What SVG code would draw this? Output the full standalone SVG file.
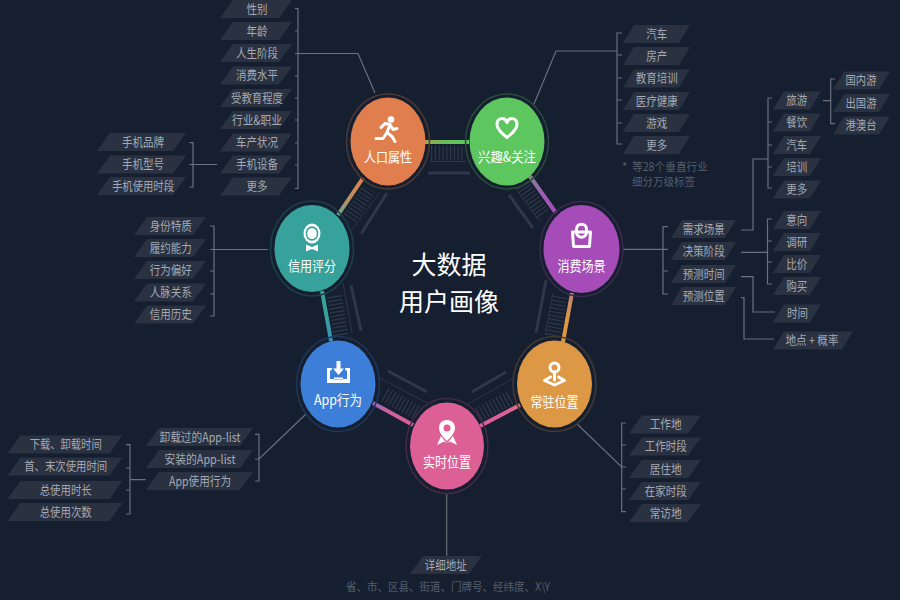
<svg xmlns="http://www.w3.org/2000/svg" width="900" height="600" viewBox="0 0 900 600">
<style>
text{font-family:"Noto Sans CJK SC","Noto Sans",sans-serif;text-anchor:middle}
.t{font-size:12.5px;fill:#a4a9b3}
.n{font-size:14px;fill:#fff}
.c{font-size:25px;fill:#fff}
.d{font-size:11.5px;fill:#565d6c;text-anchor:start}
.l{fill:none;stroke:#6a707d;stroke-width:1.2}
.th{fill:none;stroke:#2d3647;stroke-width:1}
.b{fill:none;stroke:#2f3748;stroke-width:3}
.h{fill:none;stroke:#2f3849;stroke-width:15;stroke-dasharray:1.2 2.600}
.k{fill:none;stroke-width:4}
.r{fill:none;stroke-width:1.500}
.i{fill:#fff}
.o{fill:none;stroke:#fff;stroke-width:3;stroke-linecap:round;stroke-linejoin:round}
</style>
<defs>
<polygon id="p48" points="11,0 48,0 37,18 0,18" fill="#2a3242"/>
<polygon id="p57" points="11,0 57,0 46,18 0,18" fill="#2a3242"/>
<polygon id="p65" points="11,0 65,0 54,18 0,18" fill="#2a3242"/>
<polygon id="p67" points="11,0 67,0 56,18 0,18" fill="#2a3242"/>
<polygon id="p72" points="13,0 72,0 59,18 0,18" fill="#2a3242"/>
<polygon id="p80" points="11,0 80,0 69,18 0,18" fill="#2a3242"/>
<polygon id="p89" points="13,0 89,0 76,18 0,18" fill="#2a3242"/>
<polygon id="p107" points="13,0 107,0 94,18 0,18" fill="#2a3242"/>
<polygon id="p115" points="13,0 115,0 102,18 0,18" fill="#2a3242"/>
<linearGradient id="g1" gradientUnits="userSpaceOnUse" x1="425" y1="142" x2="469" y2="142"><stop offset="0" stop-color="#a3a34d"/><stop offset=".4" stop-color="#68bd5a"/><stop offset="1" stop-color="#5ec65e"/></linearGradient>
<linearGradient id="g2" gradientUnits="userSpaceOnUse" x1="529" y1="175" x2="556" y2="213"><stop offset="0" stop-color="#7f8a85"/><stop offset=".5" stop-color="#a05cb5"/><stop offset="1" stop-color="#a64cb9"/></linearGradient>
<linearGradient id="g3" gradientUnits="userSpaceOnUse" x1="572" y1="293" x2="563" y2="342"><stop offset="0" stop-color="#c0807a"/><stop offset=".5" stop-color="#dc9845"/><stop offset="1" stop-color="#dc9845"/></linearGradient>
<linearGradient id="g4" gradientUnits="userSpaceOnUse" x1="520" y1="405" x2="480" y2="426"><stop offset="0" stop-color="#dc6f85"/><stop offset=".4" stop-color="#dc5f96"/><stop offset="1" stop-color="#dc5f96"/></linearGradient>
<linearGradient id="g5" gradientUnits="userSpaceOnUse" x1="413" y1="425" x2="373" y2="403"><stop offset="0" stop-color="#dc5f96"/><stop offset=".6" stop-color="#d0609c"/><stop offset="1" stop-color="#8d6cc0"/></linearGradient>
<linearGradient id="g6" gradientUnits="userSpaceOnUse" x1="331" y1="341" x2="322" y2="291"><stop offset="0" stop-color="#3a90b8"/><stop offset=".5" stop-color="#37a29b"/><stop offset="1" stop-color="#37a29b"/></linearGradient>
<linearGradient id="g7" gradientUnits="userSpaceOnUse" x1="338" y1="215" x2="363" y2="178"><stop offset="0" stop-color="#6fa58c"/><stop offset=".5" stop-color="#c08e5c"/><stop offset="1" stop-color="#e07f4d"/></linearGradient>
</defs>
<rect width="900" height="600" fill="#151f30"/>
<g id="connectors">
<line class="h" x1="431" y1="153" x2="465" y2="153"/>
<line class="h" x1="522" y1="185" x2="544" y2="216"/>
<line class="h" x1="560" y1="297" x2="553" y2="336"/>
<line class="h" x1="510" y1="398" x2="478" y2="415"/>
<line class="h" x1="416" y1="412" x2="384" y2="394"/>
<line class="h" x1="341" y1="335" x2="334" y2="294"/>
<line class="h" x1="350" y1="218" x2="369" y2="189"/>
<line class="th" x1="430" y1="161.500" x2="466" y2="161.500"/>
<line class="th" x1="515" y1="187" x2="540" y2="222"/>
<line class="th" x1="553" y1="293" x2="545" y2="335"/>
<line class="th" x1="514" y1="378" x2="468" y2="404"/>
<line class="th" x1="378" y1="377" x2="427" y2="403"/>
<line class="th" x1="343" y1="283" x2="352" y2="333"/>
<line class="th" x1="380" y1="192" x2="352" y2="230"/>
<line class="b" x1="428" y1="173" x2="470" y2="173"/>
<line class="b" x1="509" y1="195" x2="533" y2="228"/>
<line class="b" x1="546" y1="280" x2="536" y2="333"/>
<line class="b" x1="472" y1="392" x2="506" y2="372"/>
<line class="b" x1="388" y1="371" x2="427" y2="392"/>
<line class="b" x1="351" y1="285" x2="361" y2="331"/>
<line class="b" x1="387" y1="193" x2="361" y2="234"/>
<line class="k" stroke="url(#g1)" x1="425" y1="142" x2="469" y2="142"/>
<line class="k" stroke="url(#g2)" x1="529" y1="175" x2="556" y2="213"/>
<line class="k" stroke="url(#g3)" x1="572" y1="293" x2="563" y2="342"/>
<line class="k" stroke="url(#g4)" x1="520" y1="405" x2="480" y2="426"/>
<line class="k" stroke="url(#g5)" x1="413" y1="425" x2="373" y2="403"/>
<line class="k" stroke="url(#g6)" x1="331" y1="341" x2="322" y2="291"/>
<line class="k" stroke="url(#g7)" x1="338" y1="215" x2="363" y2="178"/>
<path class="l" d="M295 8.500H298V188.500H295M295 31H298M295 53.500H358L375 93M295 76H298M295 98H298M295 120H298M295 143H298M295 165H298"/>
<path class="l" d="M189.500 142.700H193V187H189.500M189.500 164.500H217"/>
<path class="l" d="M210 226H214V316H210M210 249.500H268M210 271H214M210 294H214"/>
<path class="l" d="M534 104L556 51H617M622 33H617V144H622M617 55H622M617 78H622M617 100H622M617 123H622"/>
<path class="l" d="M835 79H830.700V123.700H835M823 100.700H830.700"/>
<path class="l" d="M772 98H768V188H772M768 122H772M768 145H772M768 167H772M768 159H753V230H741"/>
<path class="l" d="M668 226.700H663V294H668M623 249.300H668M663 271H668"/>
<path class="l" d="M741 252.300H767.500M772 219H767.500V284H772M767.500 241H772M767.500 262H772"/>
<path class="l" d="M741 276.700H753V312H775"/>
<path class="l" d="M741 297.700H744V339H774"/>
<path class="l" d="M577 424L621.700 467H626M626 423H621.700V511.700H626M621.700 445H626M621.700 489H626"/>
<path class="l" d="M446.700 494V555.700"/>
<path class="l" d="M306 414L259 459H255M255 434.300H259V481H255"/>
<path class="l" d="M126 444.700H130V514H126M126 468H130M126 490H130M130 479.700H145.700"/>
</g>
<g id="center-title">
<text class="c" x="449" y="274">大数据</text>
<text class="c" x="449" y="311">用户画像</text>
</g>
<g id="node-renkou" transform="translate(388,141.500)">
<ellipse class="r" rx="41.500" ry="47.500" stroke="#4a3a38"/>
<ellipse rx="37.500" ry="44" fill="#e07f4d"/>
<circle class="i" cx="3" cy="-22" r="3.300"/>
<path class="o" d="M-7 -14L-3 -18L2 -17L5 -12L9 -13M2 -17L-1 -9L4 -5L7 0M-1 -9L-5 -3H-12"/>
<text class="n" x="0" y="20.500" textLength="48" lengthAdjust="spacingAndGlyphs">人口属性</text>
</g>
<g id="node-xingqu" transform="translate(507,141.500)">
<ellipse class="r" rx="41.500" ry="47.500" stroke="#2b4a3c"/>
<ellipse rx="37.500" ry="44" fill="#5ec65e"/>
<path class="o" d="M0 -4C-5 -8 -10 -12 -10 -17C-10 -24 -2 -25 0 -19C2 -25 10 -24 10 -17C10 -12 5 -8 0 -4Z"/>
<text class="n" x="0" y="20.500" textLength="58" lengthAdjust="spacingAndGlyphs">兴趣&amp;关注</text>
</g>
<g id="node-xiaofei" transform="translate(581.500,249)">
<ellipse class="r" rx="41.500" ry="47.500" stroke="#3a2a50"/>
<ellipse rx="38" ry="44" fill="#a64cb9"/>
<path class="o" d="M-9 -17H9L8 -2.500H-8ZM-5 -17V-20C-5 -26.500 5 -26.500 5 -20V-17M-5 -17C-5 -10 5 -10 5 -17" stroke-width="2.400"/>
<text class="n" x="0" y="22" textLength="48" lengthAdjust="spacingAndGlyphs">消费场景</text>
</g>
<g id="node-changzhu" transform="translate(554.500,384)">
<ellipse class="r" rx="41.500" ry="47.500" stroke="#443a35"/>
<ellipse rx="37.500" ry="43.500" fill="#dc9845"/>
<circle class="o" cx="0" cy="-16.500" r="4.500" stroke-width="2.600"/>
<path class="o" d="M0 -11.500V-4" stroke-width="2.600"/>
<path class="o" d="M-4 -7L-10 -3.500L0 1L10 -3.500L4 -7" stroke-width="2.600"/>
<text class="n" x="0" y="22.500" textLength="48" lengthAdjust="spacingAndGlyphs">常驻位置</text>
</g>
<g id="node-shishi" transform="translate(447,446)">
<ellipse class="r" rx="41" ry="47.500" stroke="#432a48"/>
<ellipse rx="37" ry="43.500" fill="#dc5f96"/>
<path class="i" fill-rule="evenodd" d="M0 -26C-5.500 -26 -8 -22 -8 -18C-8 -13 -3 -8 0 -5C3 -8 8 -13 8 -18C8 -22 5.500 -26 0 -26ZM0 -21.500A3.500 3.500 0 1 1 0 -14.500A3.500 3.500 0 1 1 0 -21.500Z"/>
<path class="i" d="M-6 -10L-3 -6L0 -3L-3 -4.500L-10 -1ZM6 -10L3 -6L0 -3L3 -4.500L10 -1Z"/>
<text class="n" x="0" y="21" textLength="48" lengthAdjust="spacingAndGlyphs">实时位置</text>
</g>
<g id="node-app" transform="translate(338,384)">
<ellipse class="r" rx="41.500" ry="47.500" stroke="#1f3658"/>
<ellipse rx="37.500" ry="43.500" fill="#3d7ed8"/>
<path class="i" d="M-1.500 -23H2.500V-15.500H6L0.500 -9L-5 -15.500H-1.500Z"/>
<path class="i" fill-rule="evenodd" d="M-6 -16L-6.500 -13.500H-8V-5H9V-13.500H7.500L7 -16L12 -16V-1H-11V-16ZM-4 -6.500H5V-4.500H-4Z"/>
<text class="n" x="0" y="20.500" textLength="48" lengthAdjust="spacingAndGlyphs">App行为</text>
</g>
<g id="node-xinyong" transform="translate(312,248.500)">
<ellipse class="r" rx="41.500" ry="47.500" stroke="#1c4048"/>
<ellipse rx="37.500" ry="43.500" fill="#37a29b"/>
<ellipse class="i" cx="0" cy="-15" rx="8.500" ry="10"/>
<ellipse cx="0" cy="-15" rx="6.300" ry="7.300" fill="#37a29b"/>
<ellipse class="i" cx="0" cy="-15" rx="4.800" ry="5.600"/>
<path class="i" d="M-6 -4L0 -1.500L6 -4V3L0 0.500L-6 3Z"/>
<text class="n" x="0" y="22" textLength="48" lengthAdjust="spacingAndGlyphs">信用评分</text>
</g>
<g id="tags-renkou">
<g id="t-xingbie"><use href="#p72" x="220" y="0"/><text class="t" x="257" y="13.500" textLength="21" lengthAdjust="spacingAndGlyphs">性别</text></g>
<g id="t-nianling"><use href="#p72" x="220" y="22"/><text class="t" x="257" y="35.500" textLength="21" lengthAdjust="spacingAndGlyphs">年龄</text></g>
<g id="t-jieduan"><use href="#p72" x="220" y="44"/><text class="t" x="257" y="57.500" textLength="42" lengthAdjust="spacingAndGlyphs">人生阶段</text></g>
<g id="t-shuiping"><use href="#p72" x="220" y="66.500"/><text class="t" x="257" y="80" textLength="42" lengthAdjust="spacingAndGlyphs">消费水平</text></g>
<g id="t-jiaoyu"><use href="#p72" x="220" y="89"/><text class="t" x="257" y="102.500" textLength="52" lengthAdjust="spacingAndGlyphs">受教育程度</text></g>
<g id="t-hangye"><use href="#p72" x="220" y="111"/><text class="t" x="257" y="124.500" textLength="50" lengthAdjust="spacingAndGlyphs">行业&amp;职业</text></g>
<g id="t-chechan"><use href="#p72" x="220" y="133.500"/><text class="t" x="257" y="147" textLength="42" lengthAdjust="spacingAndGlyphs">车产状况</text></g>
<g id="t-shebei"><use href="#p72" x="220" y="155.500"/><text class="t" x="257" y="169" textLength="42" lengthAdjust="spacingAndGlyphs">手机设备</text></g>
<g id="t-gengduo1"><use href="#p72" x="220" y="177.500"/><text class="t" x="257" y="191" textLength="21" lengthAdjust="spacingAndGlyphs">更多</text></g>
</g>
<g id="tags-phone">
<g id="t-pinpai"><use href="#p89" x="97" y="133"/><text class="t" x="143" y="146.500" textLength="42" lengthAdjust="spacingAndGlyphs">手机品牌</text></g>
<g id="t-xinghao"><use href="#p89" x="97" y="155.500"/><text class="t" x="143" y="169" textLength="42" lengthAdjust="spacingAndGlyphs">手机型号</text></g>
<g id="t-shiduan"><use href="#p89" x="97" y="177"/><text class="t" x="143" y="190.500" textLength="62" lengthAdjust="spacingAndGlyphs">手机使用时段</text></g>
</g>
<g id="tags-xinyong">
<g id="t-shenfen"><use href="#p72" x="134" y="217"/><text class="t" x="170.700" y="230.500" textLength="42" lengthAdjust="spacingAndGlyphs">身份特质</text></g>
<g id="t-lvyue"><use href="#p72" x="134" y="239"/><text class="t" x="170.700" y="252.500" textLength="42" lengthAdjust="spacingAndGlyphs">履约能力</text></g>
<g id="t-xingwei"><use href="#p72" x="134" y="261"/><text class="t" x="170.700" y="274.500" textLength="42" lengthAdjust="spacingAndGlyphs">行为偏好</text></g>
<g id="t-renmai"><use href="#p72" x="134" y="283.500"/><text class="t" x="170.700" y="297" textLength="42" lengthAdjust="spacingAndGlyphs">人脉关系</text></g>
<g id="t-lishi"><use href="#p72" x="134" y="305.500"/><text class="t" x="170.700" y="319" textLength="42" lengthAdjust="spacingAndGlyphs">信用历史</text></g>
</g>
<g id="tags-xingqu">
<g id="t-qiche1"><use href="#p67" x="623" y="25"/><text class="t" x="656.700" y="38.500" textLength="21" lengthAdjust="spacingAndGlyphs">汽车</text></g>
<g id="t-fangchan"><use href="#p67" x="623" y="47"/><text class="t" x="656.700" y="60.500" textLength="21" lengthAdjust="spacingAndGlyphs">房产</text></g>
<g id="t-peixun1"><use href="#p67" x="623" y="69.500"/><text class="t" x="656.700" y="83" textLength="42" lengthAdjust="spacingAndGlyphs">教育培训</text></g>
<g id="t-yiliao"><use href="#p67" x="623" y="92"/><text class="t" x="656.700" y="105.500" textLength="42" lengthAdjust="spacingAndGlyphs">医疗健康</text></g>
<g id="t-youxi"><use href="#p67" x="623" y="114"/><text class="t" x="656.700" y="127.500" textLength="21" lengthAdjust="spacingAndGlyphs">游戏</text></g>
<g id="t-gengduo2"><use href="#p67" x="623" y="136"/><text class="t" x="656.700" y="149.500" textLength="21" lengthAdjust="spacingAndGlyphs">更多</text></g>
<text class="d" x="622" y="171">*</text>
<text class="d" x="632" y="171" textLength="76" lengthAdjust="spacingAndGlyphs">等28个垂直行业</text>
<text class="d" x="632" y="186" textLength="63" lengthAdjust="spacingAndGlyphs">细分万级标签</text>
</g>
<g id="tags-xiaofei">
<g id="t-guonei"><use href="#p57" x="833" y="71.500"/><text class="t" x="861" y="85" textLength="31" lengthAdjust="spacingAndGlyphs">国内游</text></g>
<g id="t-chuguo"><use href="#p57" x="833" y="94"/><text class="t" x="861" y="107.500" textLength="31" lengthAdjust="spacingAndGlyphs">出国游</text></g>
<g id="t-gangao"><use href="#p57" x="833" y="116.500"/><text class="t" x="861" y="130" textLength="31" lengthAdjust="spacingAndGlyphs">港澳台</text></g>
<g id="t-lvyou"><use href="#p48" x="773" y="91.500"/><text class="t" x="796.700" y="105" textLength="21" lengthAdjust="spacingAndGlyphs">旅游</text></g>
<g id="t-canyin"><use href="#p48" x="773" y="113.500"/><text class="t" x="796.700" y="127" textLength="21" lengthAdjust="spacingAndGlyphs">餐饮</text></g>
<g id="t-qiche2"><use href="#p48" x="773" y="136"/><text class="t" x="796.700" y="149.500" textLength="21" lengthAdjust="spacingAndGlyphs">汽车</text></g>
<g id="t-peixun2"><use href="#p48" x="773" y="158"/><text class="t" x="796.700" y="171.500" textLength="21" lengthAdjust="spacingAndGlyphs">培训</text></g>
<g id="t-gengduo3"><use href="#p48" x="773" y="180.500"/><text class="t" x="796.700" y="194" textLength="21" lengthAdjust="spacingAndGlyphs">更多</text></g>
<g id="t-xuqiu"><use href="#p65" x="671" y="220"/><text class="t" x="703.700" y="233.500" textLength="42" lengthAdjust="spacingAndGlyphs">需求场景</text></g>
<g id="t-juece"><use href="#p65" x="671" y="242"/><text class="t" x="703.700" y="255.500" textLength="42" lengthAdjust="spacingAndGlyphs">决策阶段</text></g>
<g id="t-yuce1"><use href="#p65" x="671" y="265"/><text class="t" x="703.700" y="278.500" textLength="42" lengthAdjust="spacingAndGlyphs">预测时间</text></g>
<g id="t-yuce2"><use href="#p65" x="671" y="287"/><text class="t" x="703.700" y="300.500" textLength="42" lengthAdjust="spacingAndGlyphs">预测位置</text></g>
<g id="t-yixiang"><use href="#p48" x="773" y="211"/><text class="t" x="796.700" y="224.500" textLength="21" lengthAdjust="spacingAndGlyphs">意向</text></g>
<g id="t-diaoyan"><use href="#p48" x="773" y="233"/><text class="t" x="796.700" y="246.500" textLength="21" lengthAdjust="spacingAndGlyphs">调研</text></g>
<g id="t-bijia"><use href="#p48" x="773" y="255"/><text class="t" x="796.700" y="268.500" textLength="21" lengthAdjust="spacingAndGlyphs">比价</text></g>
<g id="t-goumai"><use href="#p48" x="773" y="277"/><text class="t" x="796.700" y="290.500" textLength="21" lengthAdjust="spacingAndGlyphs">购买</text></g>
<g id="t-shijian"><use href="#p48" x="773" y="304.500"/><text class="t" x="797.500" y="318" textLength="21" lengthAdjust="spacingAndGlyphs">时间</text></g>
<g id="t-didian"><use href="#p80" x="773" y="331.500"/><text class="t" x="812" y="345" textLength="53" lengthAdjust="spacingAndGlyphs">地点 + 概率</text></g>
</g>
<g id="tags-changzhu">
<g id="t-gongzuo"><use href="#p72" x="629" y="415.500"/><text class="t" x="665.700" y="429" textLength="32" lengthAdjust="spacingAndGlyphs">工作地</text></g>
<g id="t-gzshiduan"><use href="#p72" x="629" y="437.500"/><text class="t" x="665.700" y="451" textLength="42" lengthAdjust="spacingAndGlyphs">工作时段</text></g>
<g id="t-juzhu"><use href="#p72" x="629" y="460"/><text class="t" x="665.700" y="473.500" textLength="32" lengthAdjust="spacingAndGlyphs">居住地</text></g>
<g id="t-zaijia"><use href="#p72" x="629" y="482"/><text class="t" x="665.700" y="495.500" textLength="42" lengthAdjust="spacingAndGlyphs">在家时段</text></g>
<g id="t-changfang"><use href="#p72" x="629" y="504"/><text class="t" x="665.700" y="517.500" textLength="32" lengthAdjust="spacingAndGlyphs">常访地</text></g>
</g>
<g id="tags-shishi">
<g id="t-dizhi"><use href="#p72" x="410" y="556"/><text class="t" x="445.700" y="569.500" textLength="42" lengthAdjust="spacingAndGlyphs">详细地址</text></g>
<text class="d" style="text-anchor:middle" x="448" y="590.500" textLength="204" lengthAdjust="spacingAndGlyphs">省、市、区县、街道、门牌号、经纬度、X\Y</text>
</g>
<g id="tags-app">
<g id="t-xiezai"><use href="#p107" x="146" y="428"/><text class="t" x="200" y="441.500" textLength="81" lengthAdjust="spacingAndGlyphs">卸载过的App-list</text></g>
<g id="t-anzhuang"><use href="#p107" x="146" y="450"/><text class="t" x="200" y="463.500" textLength="71" lengthAdjust="spacingAndGlyphs">安装的App-list</text></g>
<g id="t-appuse"><use href="#p107" x="146" y="472"/><text class="t" x="200" y="485.500" textLength="62" lengthAdjust="spacingAndGlyphs">App使用行为</text></g>
<g id="t-xiazai"><use href="#p115" x="7.500" y="435.500"/><text class="t" x="65.700" y="449" textLength="72" lengthAdjust="spacingAndGlyphs">下载、卸载时间</text></g>
<g id="t-shouci"><use href="#p115" x="7.500" y="457.500"/><text class="t" x="65.700" y="471" textLength="83" lengthAdjust="spacingAndGlyphs">首、末次使用时间</text></g>
<g id="t-shichang"><use href="#p115" x="7.500" y="481"/><text class="t" x="65.700" y="494.500" textLength="52" lengthAdjust="spacingAndGlyphs">总使用时长</text></g>
<g id="t-cishu"><use href="#p115" x="7.500" y="503"/><text class="t" x="65.700" y="516.500" textLength="52" lengthAdjust="spacingAndGlyphs">总使用次数</text></g>
</g>
</svg>
